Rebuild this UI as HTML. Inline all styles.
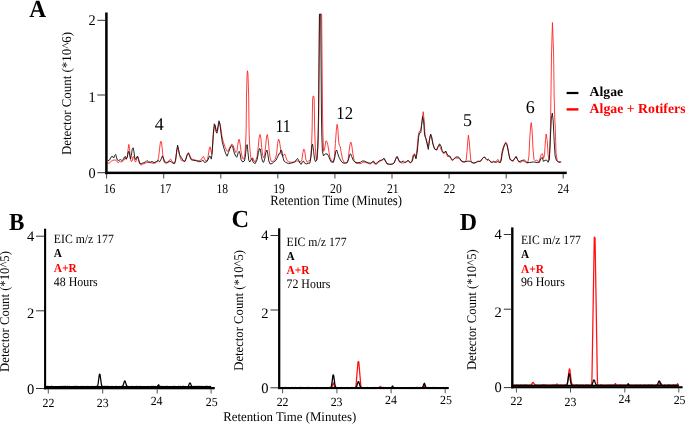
<!DOCTYPE html>
<html><head><meta charset="utf-8"><title>Figure</title>
<style>html,body{margin:0;padding:0;background:#fff}svg{display:block;text-rendering:geometricPrecision}</style></head>
<body>
<svg width="685" height="424" viewBox="0 0 685 424">
<rect width="685" height="424" fill="#fff"/>
<polyline points="107.60,163.4 109.60,162.8 111.10,161.4 112.70,160.3 114.20,160.0 115.70,160.0 117.10,161.8 118.30,162.8 119.50,161.4 120.80,161.8 122.40,161.8 123.90,160.3 125.20,158.0 126.20,159.5 127.30,157.0 128.10,149.3 128.80,144.4 129.50,148.3 130.30,158.0 131.10,161.4 132.10,161.0 132.90,157.0 133.60,156.4 134.60,160.5 135.60,162.1 136.70,159.0 137.70,156.4 138.50,158.5 139.50,163.1 140.80,165.1 142.80,164.1 145.30,163.1 147.90,162.4 151.00,162.8 154.00,163.4 156.10,162.6 157.60,161.0 158.60,157.5 159.60,148.3 160.50,141.6 161.40,141.6 162.20,148.3 163.20,158.5 164.20,162.4 165.80,163.4 167.80,162.6 169.40,160.0 170.60,159.0 171.90,161.0 173.20,163.1 174.90,162.3 175.90,157.8 176.80,150.0 177.70,146.8 178.70,150.7 179.80,156.5 181.30,160.4 183.40,161.0 185.00,161.0 186.30,157.2 187.60,153.3 188.60,152.6 189.90,155.9 191.50,159.1 194.00,159.7 196.60,160.4 199.20,160.7 201.20,159.7 202.50,157.2 203.50,156.5 204.70,159.1 206.00,161.0 207.30,160.4 208.30,155.2 209.40,148.1 210.10,146.8 210.90,150.7 211.80,153.9 212.70,144.8 213.80,130.6 214.80,124.7 215.80,128.0 216.70,131.2 217.70,130.6 218.70,124.7 219.60,122.8 220.60,126.7 221.90,135.8 223.20,141.6 225.20,147.4 227.10,151.3 228.40,150.7 230.00,146.8 231.70,144.2 233.00,145.1 234.50,149.4 235.80,152.6 236.90,151.3 237.80,144.8 238.70,139.6 239.40,139.6 240.40,146.1 241.40,153.9 242.70,158.5 244.00,159.1 244.90,153.5 245.45,147.0 246.00,134.5 246.20,126.0 246.50,95.0 247.10,74.0 247.50,70.8 247.95,74.0 248.65,95.0 249.00,126.0 249.20,134.5 249.75,147.0 250.40,154.5 251.10,159.1 252.00,158.5 252.90,157.8 253.90,161.0 255.40,161.7 257.10,156.5 258.20,147.4 259.10,137.7 260.00,134.5 260.90,138.3 261.70,147.4 262.60,155.2 263.60,157.8 264.70,155.2 265.60,146.1 266.50,137.0 267.30,134.5 268.20,139.6 269.10,150.0 270.10,157.8 271.40,161.7 273.30,161.0 275.30,159.1 276.60,153.9 277.60,143.5 278.50,139.0 279.40,140.9 280.50,148.1 281.50,153.9 282.70,156.5 283.70,155.2 284.60,153.9 285.70,156.5 287.00,160.4 288.90,162.0 291.50,162.3 294.70,162.0 296.70,161.0 298.60,161.0 300.60,162.0 301.90,159.7 302.90,152.6 303.80,149.0 304.70,150.7 305.80,159.1 307.10,162.3 308.60,161.0 310.10,160.4 311.00,155.0 311.60,145.0 312.10,130.0 312.60,100.0 313.00,96.2 313.80,96.2 314.20,100.0 314.70,130.0 315.20,145.0 315.80,155.0 316.50,160.4 317.40,157.8 318.20,140.9 318.75,115.0 319.50,14.2 321.65,14.2 322.55,115.0 322.95,135.0 323.60,151.5 324.60,149.0 325.90,140.9 326.80,141.3 327.80,144.8 329.10,152.6 330.00,157.8 331.90,161.0 333.40,162.0 334.50,156.5 335.40,143.5 336.30,130.6 337.10,124.3 337.90,129.3 338.60,140.9 339.40,145.5 340.30,146.8 341.20,152.6 342.50,159.1 344.20,162.7 346.80,163.0 348.10,159.7 349.10,151.3 350.00,144.2 351.00,142.2 351.90,146.1 352.90,153.9 354.20,160.4 355.90,163.2 358.50,163.6 361.10,163.6 363.00,162.0 365.00,162.3 367.60,163.2 370.20,164.0 372.10,162.7 373.40,162.0 374.70,164.0 376.20,164.3 378.60,162.3 380.50,161.0 382.50,160.1 384.00,158.8 385.30,161.0 387.00,164.0 390.30,164.5 392.90,164.0 394.40,162.3 395.70,159.1 397.00,157.5 398.00,159.1 399.60,162.3 401.90,163.0 404.50,162.7 406.50,162.0 408.00,160.4 410.40,163.2 411.90,160.4 413.20,154.7 414.30,153.8 415.70,157.5 417.00,149.0 418.30,135.8 419.40,131.1 420.80,130.2 422.10,120.8 423.20,111.7 424.20,120.8 425.10,136.8 426.40,138.7 427.70,146.2 428.70,145.3 429.80,136.8 430.80,134.3 432.10,140.6 434.00,148.1 436.20,150.0 437.70,147.2 439.20,144.9 441.30,149.9 442.70,152.8 444.20,153.6 445.50,151.7 446.60,154.2 447.60,156.6 449.30,156.3 450.60,158.1 452.20,160.5 453.60,159.5 455.10,158.1 457.00,158.1 458.90,158.1 460.40,160.0 462.10,161.9 464.20,162.1 465.40,161.6 466.20,160.0 467.00,151.5 467.80,140.9 468.40,135.2 469.20,140.9 470.00,151.5 470.80,160.0 471.80,162.6 474.10,163.4 476.30,162.3 478.00,161.6 480.30,161.3 481.90,159.1 483.30,157.7 484.50,157.3 485.80,159.1 487.20,160.5 488.60,159.8 489.80,161.1 491.40,162.6 493.00,161.9 494.60,162.1 496.20,161.6 497.30,159.8 498.10,159.5 499.00,161.6 499.90,162.3 501.00,158.9 502.00,152.0 503.10,147.5 504.20,145.1 505.50,142.2 506.60,142.8 507.70,147.3 508.70,153.1 510.00,159.5 510.90,160.4 513.20,161.3 515.10,157.5 516.40,156.6 517.90,160.4 520.20,162.6 523.00,160.8 525.80,162.3 527.70,163.2 528.90,156.6 529.80,137.7 530.80,124.5 531.30,122.6 532.10,130.2 533.00,149.0 534.00,159.4 535.30,160.8 536.80,160.0 538.70,162.3 540.00,158.5 541.30,154.3 542.50,153.8 543.60,158.5 544.50,154.7 545.50,139.6 546.20,134.0 547.20,140.6 548.10,154.7 549.10,160.4 550.00,147.2 550.60,118.9 550.95,96.0 551.50,54.0 552.45,22.5 553.60,54.0 554.15,96.0 554.75,118.0 555.30,128.3 556.00,152.8 557.20,160.4 558.90,162.6 561.30,161.9" fill="none" stroke="#ff1a1a" stroke-width="0.85" stroke-linejoin="round"/>
<polyline points="107.60,161.0 109.60,160.0 111.10,157.0 112.20,156.2 113.70,158.0 114.70,155.4 115.70,154.4 116.40,157.0 117.30,160.0 118.80,160.5 120.30,159.5 121.90,160.5 123.40,159.5 124.40,157.0 125.40,156.4 126.20,159.0 127.30,157.0 128.30,151.9 129.00,151.3 129.80,155.4 130.50,159.0 131.40,155.4 132.20,149.3 133.10,147.8 133.90,151.3 134.80,158.0 135.60,159.5 136.70,157.0 137.50,156.2 138.50,159.5 139.50,163.1 141.30,163.6 143.30,162.8 145.30,162.1 146.90,160.5 148.40,161.8 150.50,162.1 152.00,161.6 154.00,162.6 156.10,161.8 158.10,160.5 159.60,161.8 161.20,159.0 162.40,155.9 163.40,158.0 164.80,161.8 166.30,162.4 168.30,162.1 169.90,161.0 171.40,162.1 172.90,163.1 174.60,163.6 175.60,160.4 176.50,152.6 177.60,145.1 178.50,149.4 179.50,154.6 181.10,157.2 183.00,160.4 184.70,161.7 186.00,159.1 187.30,154.6 188.50,153.3 189.50,155.9 191.10,159.7 193.40,160.4 196.00,160.7 198.60,161.7 201.20,161.4 202.90,160.1 204.40,162.3 206.40,162.0 208.10,159.7 209.40,156.2 210.40,156.5 211.30,159.1 212.20,152.6 213.20,134.5 214.30,123.8 215.20,126.0 216.10,131.9 217.00,133.2 217.90,126.7 219.00,120.8 220.00,124.7 221.00,133.2 222.30,142.2 223.90,148.1 225.80,153.9 227.10,156.2 228.40,152.6 230.10,148.1 231.70,145.5 232.70,146.8 234.00,152.0 235.60,156.2 236.90,157.2 238.20,152.6 239.20,151.3 240.10,153.9 241.10,159.7 242.70,162.0 244.40,161.0 245.40,156.5 246.30,146.1 247.20,144.6 248.00,152.6 248.80,160.4 249.80,162.0 251.10,159.7 252.00,158.5 253.20,162.3 255.20,163.6 257.10,159.7 258.40,152.6 259.50,148.5 260.40,149.0 261.40,156.5 262.60,161.7 263.60,162.3 264.70,159.1 265.80,152.6 266.90,150.0 267.80,153.9 268.80,161.0 270.10,164.0 272.00,163.6 274.00,161.7 275.90,160.4 277.50,157.2 278.80,153.9 279.80,153.9 280.90,150.0 281.80,150.7 282.70,156.5 284.00,161.0 285.70,162.3 288.30,163.6 291.50,163.0 294.70,162.0 296.40,159.7 297.60,158.5 298.60,160.4 299.90,163.2 301.20,164.3 302.50,161.7 303.40,161.0 304.70,163.2 306.40,164.0 308.40,163.2 309.90,163.2 311.00,156.5 311.90,146.1 312.60,144.2 313.60,151.3 314.50,159.1 315.50,161.7 316.80,159.7 317.70,147.4 318.10,135.0 318.50,115.0 319.45,14.2 320.70,14.2 321.45,115.0 321.80,135.0 322.40,151.3 323.50,155.9 325.20,153.9 327.20,153.9 328.50,155.9 330.00,159.7 331.20,162.0 333.40,162.3 334.70,157.8 335.80,151.3 336.70,150.0 337.70,153.3 339.00,157.2 341.00,161.0 342.90,163.0 345.50,163.2 347.50,162.3 348.80,158.5 349.80,154.6 350.70,153.9 351.70,156.5 353.30,160.4 355.20,162.3 357.80,162.7 360.40,162.3 362.40,161.0 364.30,161.0 366.30,162.0 368.90,163.0 370.80,163.2 372.40,161.7 373.40,161.0 374.70,163.0 376.00,163.6 377.90,162.0 379.90,160.4 381.80,160.1 383.40,158.5 384.40,158.5 385.50,161.0 387.00,163.6 389.60,164.3 392.20,164.0 394.10,163.0 395.40,159.7 396.50,156.8 397.40,156.5 398.40,159.1 399.70,161.7 401.30,162.0 403.20,161.0 404.80,162.3 406.50,161.7 408.00,160.4 410.40,162.6 412.30,161.3 413.60,155.7 414.70,154.7 416.00,158.9 417.40,150.9 418.50,137.7 419.40,133.0 420.80,132.5 421.70,124.5 422.60,116.6 423.60,120.8 424.50,134.0 425.80,138.7 427.00,143.4 428.30,149.4 429.40,140.6 430.60,134.3 431.70,136.8 433.00,144.3 434.90,149.4 436.80,150.0 438.30,146.2 439.60,143.8 441.10,146.2 442.10,150.5 443.70,152.8 445.00,152.0 445.80,151.0 446.90,153.6 448.30,155.8 449.80,156.0 451.10,158.4 452.50,160.2 453.80,158.9 455.40,157.3 457.00,156.8 458.90,157.3 460.10,158.9 461.70,161.1 463.90,161.9 466.00,161.6 468.10,161.1 470.20,161.3 471.80,162.3 473.90,163.0 476.10,162.3 477.60,161.3 479.20,161.3 480.80,161.1 482.20,158.9 483.50,157.3 484.70,157.0 485.80,158.4 487.20,159.8 488.30,159.1 489.30,160.0 490.70,161.9 492.20,162.3 493.60,161.3 494.90,162.1 496.20,162.3 497.80,161.6 499.20,162.3 500.40,162.6 501.30,160.0 502.20,153.6 503.30,148.9 504.50,145.1 505.70,143.2 506.80,144.6 507.90,148.9 508.90,154.7 510.00,158.9 510.90,160.0 512.80,160.8 514.70,158.5 516.00,156.6 517.40,159.4 518.90,161.9 522.10,160.4 524.30,160.0 526.80,162.3 529.60,162.6 533.40,161.9 537.20,162.6 539.40,162.3 540.90,158.5 542.30,157.5 543.40,161.3 545.10,160.4 546.60,160.0 548.10,162.3 549.40,158.5 550.40,137.7 551.30,118.9 552.30,113.2 553.20,120.8 554.20,141.5 555.10,155.7 556.40,160.4 558.30,161.9 560.80,161.9" fill="none" stroke="#111" stroke-width="0.9" stroke-linejoin="round"/>
<rect x="105.15" y="12.5" width="2.5" height="161.7" fill="#000"/>
<rect x="105.15" y="171.65" width="461.6" height="2.45" fill="#000"/>
<rect x="97.3" y="19.8" width="8.2" height="1" fill="#333"/>
<rect x="97.3" y="94.5" width="8.2" height="1" fill="#333"/>
<rect x="97.3" y="172.2" width="8.2" height="1" fill="#333"/>
<rect x="106.1" y="174" width="1" height="4.5" fill="#444"/>
<text transform="translate(109.6,193.1) scale(1.0,1.16)" font-size="11.6" text-anchor="middle" font-family="Liberation Serif, serif">16</text>
<rect x="163.2" y="174" width="1" height="4.5" fill="#444"/>
<text transform="translate(165.5,193.1) scale(1.0,1.16)" font-size="11.6" text-anchor="middle" font-family="Liberation Serif, serif">17</text>
<rect x="220.3" y="174" width="1" height="4.5" fill="#444"/>
<text transform="translate(222.3,193.1) scale(1.0,1.16)" font-size="11.6" text-anchor="middle" font-family="Liberation Serif, serif">18</text>
<rect x="277.3" y="174" width="1" height="4.5" fill="#444"/>
<text transform="translate(279.1,193.1) scale(1.0,1.16)" font-size="11.6" text-anchor="middle" font-family="Liberation Serif, serif">19</text>
<rect x="334.4" y="174" width="1" height="4.5" fill="#444"/>
<text transform="translate(335.9,193.1) scale(1.0,1.16)" font-size="11.6" text-anchor="middle" font-family="Liberation Serif, serif">20</text>
<rect x="391.5" y="174" width="1" height="4.5" fill="#444"/>
<text transform="translate(392.8,193.1) scale(1.0,1.16)" font-size="11.6" text-anchor="middle" font-family="Liberation Serif, serif">21</text>
<rect x="448.6" y="174" width="1" height="4.5" fill="#444"/>
<text transform="translate(449.6,193.1) scale(1.0,1.16)" font-size="11.6" text-anchor="middle" font-family="Liberation Serif, serif">22</text>
<rect x="505.7" y="174" width="1" height="4.5" fill="#444"/>
<text transform="translate(506.4,193.1) scale(1.0,1.16)" font-size="11.6" text-anchor="middle" font-family="Liberation Serif, serif">23</text>
<rect x="562.7" y="174" width="1" height="4.5" fill="#444"/>
<text transform="translate(563.2,193.1) scale(1.0,1.16)" font-size="11.6" text-anchor="middle" font-family="Liberation Serif, serif">24</text>
<text transform="translate(95.7,25.0) scale(1.0,1.04)" font-size="14.3" text-anchor="end" font-family="Liberation Serif, serif">2</text>
<text transform="translate(95.7,102.1) scale(1.0,1.04)" font-size="14.3" text-anchor="end" font-family="Liberation Serif, serif">1</text>
<text transform="translate(95.7,177.8) scale(1.0,1.04)" font-size="14.3" text-anchor="end" font-family="Liberation Serif, serif">0</text>
<text transform="translate(70.7,155.1) rotate(-90) scale(1.0,1.04)" font-size="12.95" font-family="Liberation Serif, serif">Detector Count (*10^6)</text>
<text transform="translate(270.2,204.8) scale(1.0,1.11)" font-size="12.7" font-family="Liberation Serif, serif">Retention Time (Minutes)</text>
<text transform="translate(29.3,16.6) scale(0.95,1)" font-size="24.6" font-weight="bold" font-family="Liberation Serif, serif">A</text>
<text transform="translate(154.8,129.8)" font-size="18" font-family="Liberation Serif, serif">4</text>
<text transform="translate(275.5,131.8) scale(0.88,1.0)" font-size="18" font-family="Liberation Serif, serif">11</text>
<text transform="translate(336.3,118.7) scale(0.93,1.0)" font-size="18" font-family="Liberation Serif, serif">12</text>
<text transform="translate(463,126)" font-size="18" font-family="Liberation Serif, serif">5</text>
<text transform="translate(525.8,113.1)" font-size="18" font-family="Liberation Serif, serif">6</text>
<rect x="566.6" y="91.9" width="11.8" height="2.2" fill="#000"/>
<rect x="566.6" y="108.2" width="11.8" height="2.4" fill="#f00"/>
<text transform="translate(589.6,95.7)" font-size="13.7" font-weight="bold" font-family="Liberation Serif, serif">Algae</text>
<text transform="translate(589.6,112.9) scale(1.0,1.01)" font-size="13.8" font-weight="bold" fill="#f00" font-family="Liberation Serif, serif">Algae + Rotifers</text>
<polyline points="46.10,386.5 46.35,386.7 46.60,386.6 46.85,386.8 47.10,386.8 47.35,386.4 47.60,386.4 47.85,386.9 48.10,386.6 48.35,386.5 48.60,387.0 48.85,386.7 49.10,386.9 49.35,386.7 49.60,386.8 49.85,386.5 50.10,386.8 50.35,386.9 50.60,386.7 50.85,386.8 51.10,386.8 51.35,386.4 51.60,386.9 51.85,386.8 52.10,386.6 52.35,386.4 52.60,386.9 52.85,386.7 53.10,386.8 53.35,386.9 53.60,386.8 53.85,387.0 54.10,386.6 54.35,386.9 54.60,386.7 54.85,387.0 55.10,386.9 55.35,386.5 55.60,386.5 55.85,386.5 56.10,387.0 56.35,386.7 56.60,386.8 56.85,386.6 57.10,386.7 57.35,386.6 57.60,386.6 57.85,386.8 58.10,386.8 58.35,386.9 58.60,386.8 58.85,387.0 59.10,386.9 59.35,387.0 59.60,386.8 59.85,386.5 60.10,386.9 60.35,387.0 60.60,386.9 60.85,386.7 61.10,386.8 61.35,386.5 61.60,386.9 61.85,386.7 62.10,386.6 62.35,386.4 62.60,386.9 62.85,387.0 63.10,386.5 63.35,386.9 63.60,386.6 63.85,386.5 64.10,386.6 64.35,386.9 64.60,386.9 64.85,386.4 65.10,386.8 65.35,386.4 65.60,386.8 65.85,386.6 66.10,386.9 66.35,387.0 66.60,386.7 66.85,387.0 67.10,386.6 67.35,386.4 67.60,386.8 67.85,386.4 68.10,386.5 68.35,386.6 68.60,386.8 68.85,386.5 69.10,386.4 69.35,386.9 69.60,386.6 69.85,387.0 70.10,386.9 70.35,386.6 70.60,386.7 70.85,386.7 71.10,386.8 71.35,386.8 71.60,386.7 71.85,386.8 72.10,387.0 72.35,386.7 72.60,386.7 72.85,386.8 73.10,386.5 73.35,386.6 73.60,387.0 73.85,386.7 74.10,386.7 74.35,386.4 74.60,386.6 74.85,386.7 75.10,386.4 75.35,386.8 75.60,386.8 75.85,386.4 76.10,386.8 76.35,386.7 76.60,386.8 76.85,386.6 77.10,386.8 77.35,386.8 77.60,386.4 77.85,386.4 78.10,386.8 78.35,387.0 78.60,386.6 78.85,386.7 79.10,386.8 79.35,386.6 79.60,386.6 79.85,386.6 80.10,386.6 80.35,386.8 80.60,386.6 80.85,386.6 81.10,386.9 81.35,386.4 81.60,386.7 81.85,386.8 82.10,386.6 82.35,386.5 82.60,386.9 82.85,386.5 83.10,386.5 83.35,386.7 83.60,386.8 83.85,386.5 84.10,386.6 84.35,386.6 84.60,386.9 84.85,386.7 85.10,386.9 85.35,386.5 85.60,386.6 85.85,386.8 86.10,386.9 86.35,386.7 86.60,386.5 86.85,386.5 87.10,386.7 87.35,386.5 87.60,386.9 87.85,386.9 88.10,386.5 88.35,386.6 88.60,386.9 88.85,386.8 89.10,386.9 89.35,386.6 89.60,386.5 89.85,386.6 90.10,386.9 90.35,386.6 90.60,386.6 90.85,386.7 91.10,386.7 91.35,386.6 91.60,387.0 91.85,386.5 92.10,386.4 92.35,387.0 92.60,386.9 92.85,387.0 93.10,386.7 93.35,387.0 93.60,387.0 93.85,386.5 94.10,386.8 94.35,386.9 94.60,386.8 94.85,386.7 95.10,386.6 95.35,386.6 95.60,386.5 95.85,386.4 96.10,386.7 96.35,386.5 96.60,386.8 96.85,386.3 97.10,386.6 97.35,386.2 97.60,385.8 97.85,385.0 98.10,383.8 98.35,382.1 98.60,379.9 98.85,378.3 99.10,376.0 99.35,374.6 99.60,374.1 99.85,374.1 100.10,374.9 100.35,376.8 100.60,378.6 100.85,380.5 101.10,382.2 101.35,384.1 101.60,385.0 101.85,385.9 102.10,386.1 102.35,386.3 102.60,386.6 102.85,386.8 103.10,386.5 103.35,386.9 103.60,387.0 103.85,386.9 104.10,386.9 104.35,386.4 104.60,386.8 104.85,386.9 105.10,386.4 105.35,386.6 105.60,386.6 105.85,386.7 106.10,386.7 106.35,386.7 106.60,386.9 106.85,386.4 107.10,386.4 107.35,386.5 107.60,386.5 107.85,386.4 108.10,387.0 108.35,386.9 108.60,386.5 108.85,386.7 109.10,386.6 109.35,386.6 109.60,386.6 109.85,386.8 110.10,386.8 110.35,386.6 110.60,386.5 110.85,386.6 111.10,386.5 111.35,386.7 111.60,386.8 111.85,386.6 112.10,386.4 112.35,386.5 112.60,386.6 112.85,386.8 113.10,386.9 113.35,386.6 113.60,386.9 113.85,386.8 114.10,386.7 114.35,386.6 114.60,386.7 114.85,386.8 115.10,386.7 115.35,386.8 115.60,386.7 115.85,386.5 116.10,386.7 116.35,386.8 116.60,386.4 116.85,386.7 117.10,386.7 117.35,386.9 117.60,387.0 117.85,386.6 118.10,386.9 118.35,386.9 118.60,386.6 118.85,386.7 119.10,386.5 119.35,386.9 119.60,386.8 119.85,386.9 120.10,386.9 120.35,386.8 120.60,386.8 120.85,386.7 121.10,386.5 121.35,386.7 121.60,386.4 121.85,386.4 122.10,386.8 122.35,386.2 122.60,386.0 122.85,385.7 123.10,385.7 123.35,384.6 123.60,383.7 123.85,383.3 124.10,381.9 124.35,381.5 124.60,380.9 124.85,380.9 125.10,381.3 125.35,381.7 125.60,382.7 125.85,383.2 126.10,384.5 126.35,385.1 126.60,385.8 126.85,385.9 127.10,386.5 127.35,386.8 127.60,386.4 127.85,386.6 128.10,386.7 128.35,386.9 128.60,386.5 128.85,386.5 129.10,386.5 129.35,386.8 129.60,386.9 129.85,386.6 130.10,386.6 130.35,386.6 130.60,386.6 130.85,386.7 131.10,386.4 131.35,386.7 131.60,387.0 131.85,386.6 132.10,386.8 132.35,386.5 132.60,386.8 132.85,386.9 133.10,386.8 133.35,386.7 133.60,386.7 133.85,386.8 134.10,386.9 134.35,386.5 134.60,386.5 134.85,386.8 135.10,386.9 135.35,386.7 135.60,386.7 135.85,386.8 136.10,386.5 136.35,386.6 136.60,386.5 136.85,386.8 137.10,386.6 137.35,386.5 137.60,386.8 137.85,387.0 138.10,386.6 138.35,386.8 138.60,386.6 138.85,386.9 139.10,386.8 139.35,386.6 139.60,386.5 139.85,386.4 140.10,386.7 140.35,386.6 140.60,386.5 140.85,386.6 141.10,386.6 141.35,386.9 141.60,386.5 141.85,387.0 142.10,386.7 142.35,386.8 142.60,386.7 142.85,386.9 143.10,386.9 143.35,386.7 143.60,386.7 143.85,386.8 144.10,386.9 144.35,386.6 144.60,386.8 144.85,387.0 145.10,386.7 145.35,386.5 145.60,386.5 145.85,386.8 146.10,386.8 146.35,387.0 146.60,386.9 146.85,386.5 147.10,386.5 147.35,386.6 147.60,386.5 147.85,386.8 148.10,386.9 148.35,386.9 148.60,386.6 148.85,386.9 149.10,386.6 149.35,386.7 149.60,386.8 149.85,386.5 150.10,386.5 150.35,386.9 150.60,386.6 150.85,386.6 151.10,386.7 151.35,386.8 151.60,386.4 151.85,386.6 152.10,386.7 152.35,386.7 152.60,386.5 152.85,386.8 153.10,387.0 153.35,386.6 153.60,386.7 153.85,386.5 154.10,386.6 154.35,386.8 154.60,386.5 154.85,386.9 155.10,386.9 155.35,386.5 155.60,387.0 155.85,386.6 156.10,386.9 156.35,386.9 156.60,386.6 156.85,386.8 157.10,386.7 157.35,386.6 157.60,385.9 157.85,385.8 158.10,385.5 158.35,385.0 158.60,384.8 158.85,384.9 159.10,385.5 159.35,385.9 159.60,386.5 159.85,386.7 160.10,386.7 160.35,386.5 160.60,386.8 160.85,386.8 161.10,386.5 161.35,386.9 161.60,386.8 161.85,386.5 162.10,387.0 162.35,386.5 162.60,386.6 162.85,386.8 163.10,386.8 163.35,386.7 163.60,386.8 163.85,386.7 164.10,386.6 164.35,386.5 164.60,386.4 164.85,386.8 165.10,386.9 165.35,386.7 165.60,386.8 165.85,386.6 166.10,386.6 166.35,386.6 166.60,386.9 166.85,386.4 167.10,386.7 167.35,386.5 167.60,386.9 167.85,386.6 168.10,386.6 168.35,386.6 168.60,386.7 168.85,386.9 169.10,386.6 169.35,386.9 169.60,386.5 169.85,386.6 170.10,386.5 170.35,386.5 170.60,386.9 170.85,386.8 171.10,386.5 171.35,386.5 171.60,386.6 171.85,386.8 172.10,386.9 172.35,386.8 172.60,386.8 172.85,386.5 173.10,386.6 173.35,386.5 173.60,386.7 173.85,386.7 174.10,386.5 174.35,386.6 174.60,386.9 174.85,386.4 175.10,386.9 175.35,386.9 175.60,387.0 175.85,386.6 176.10,386.7 176.35,386.7 176.60,386.8 176.85,387.0 177.10,386.8 177.35,386.6 177.60,386.9 177.85,386.7 178.10,386.8 178.35,386.8 178.60,386.4 178.85,386.9 179.10,386.8 179.35,386.7 179.60,386.7 179.85,386.7 180.10,386.5 180.35,386.7 180.60,386.4 180.85,386.7 181.10,386.8 181.35,386.7 181.60,386.7 181.85,387.0 182.10,386.9 182.35,386.5 182.60,386.9 182.85,386.8 183.10,386.4 183.35,386.6 183.60,386.5 183.85,386.4 184.10,386.7 184.35,387.0 184.60,386.6 184.85,386.9 185.10,386.8 185.35,386.5 185.60,386.9 185.85,386.8 186.10,387.0 186.35,386.8 186.60,386.8 186.85,386.6 187.10,386.9 187.35,386.9 187.60,386.8 187.85,386.5 188.10,386.5 188.35,386.1 188.60,385.5 188.85,384.9 189.10,384.3 189.35,383.7 189.60,383.1 189.85,383.0 190.10,383.0 190.35,383.2 190.60,383.7 190.85,384.5 191.10,384.9 191.35,385.6 191.60,386.2 191.85,386.3 192.10,386.3 192.35,386.9 192.60,386.8 192.85,386.6 193.10,386.6 193.35,386.7 193.60,386.8 193.85,386.5 194.10,386.4 194.35,386.5 194.60,386.9 194.85,386.5 195.10,386.7 195.35,386.5 195.60,386.5 195.85,386.5 196.10,386.6 196.35,386.5 196.60,386.4 196.85,386.5 197.10,386.5 197.35,386.7 197.60,386.4 197.85,386.4 198.10,386.7 198.35,386.6 198.60,386.8 198.85,386.4 199.10,386.6 199.35,386.6 199.60,386.4 199.85,387.0 200.10,386.5 200.35,386.5 200.60,386.7 200.85,386.5 201.10,386.8 201.35,386.6 201.60,386.5 201.85,386.4 202.10,386.8 202.35,386.6 202.60,386.9 202.85,386.7 203.10,387.0 203.35,386.6 203.60,386.5 203.85,386.6 204.10,386.9 204.35,386.8 204.60,386.6 204.85,386.5 205.10,386.8 205.35,387.0 205.60,386.8 205.85,386.4 206.10,386.4 206.35,386.5 206.60,386.5 206.85,386.4 207.10,386.4 207.35,386.8 207.60,386.9 207.85,386.5 208.10,387.0 208.35,386.7 208.60,386.9 208.85,387.0 209.10,387.0 209.35,386.4 209.60,386.6 209.85,386.8 210.10,387.0 210.35,386.5 210.60,386.6 210.85,386.9" fill="none" stroke="#000" stroke-width="1.25" stroke-linejoin="round"/>
<rect x="45.10" y="386.00" width="165.8" height="1.20" fill="#000"/>
<rect x="44.05" y="228.7" width="2.1" height="160.60" fill="#000"/>
<rect x="44.05" y="387.00" width="170.7" height="2.30" fill="#000"/>
<rect x="36.0" y="235.70" width="8.4" height="1" fill="#333"/>
<text transform="translate(34.3,240.9)" font-size="14.5" text-anchor="end" font-family="Liberation Serif, serif">4</text>
<rect x="36.0" y="310.30" width="8.4" height="1" fill="#333"/>
<text transform="translate(34.3,318.1)" font-size="14.5" text-anchor="end" font-family="Liberation Serif, serif">2</text>
<rect x="36.0" y="388.00" width="8.4" height="1" fill="#333"/>
<text transform="translate(34.3,394.0)" font-size="14.5" text-anchor="end" font-family="Liberation Serif, serif">0</text>
<rect x="47.80" y="389.10" width="1" height="4.4" fill="#555"/>
<text transform="translate(48.4,407.0) scale(1.0,1.04)" font-size="11.9" text-anchor="middle" font-family="Liberation Serif, serif">22</text>
<rect x="102.20" y="389.10" width="1" height="4.4" fill="#555"/>
<text transform="translate(102.8,407.0) scale(1.0,1.04)" font-size="11.9" text-anchor="middle" font-family="Liberation Serif, serif">23</text>
<rect x="156.70" y="389.10" width="1" height="4.4" fill="#555"/>
<text transform="translate(156.6,405.0) scale(1.0,1.04)" font-size="11.9" text-anchor="middle" font-family="Liberation Serif, serif">24</text>
<rect x="210.60" y="389.10" width="1" height="4.4" fill="#555"/>
<text transform="translate(211.8,406.2) scale(1.0,1.04)" font-size="11.9" text-anchor="middle" font-family="Liberation Serif, serif">25</text>
<text transform="translate(8.9,229.6) scale(0.94,1)" font-size="24.6" font-weight="bold" font-family="Liberation Serif, serif">B</text>
<text transform="translate(9.2,371.9) rotate(-90) scale(1.0,1.05)" font-size="12.7" font-family="Liberation Serif, serif">Detector Count (*10^5)</text>
<text transform="translate(53.8,243) scale(1.0,1.08)" font-size="11.75" font-family="Liberation Serif, serif">EIC m/z 177</text>
<text transform="translate(53.8,257.2) scale(1.0,1.06)" font-size="11.3" font-weight="bold" font-family="Liberation Serif, serif">A</text>
<text transform="translate(53.8,271.5) scale(1.0,1.06)" font-size="11.45" font-weight="bold" fill="#f00" font-family="Liberation Serif, serif">A+R</text>
<text transform="translate(53.8,285.7) scale(1.0,1.08)" font-size="11.9" font-family="Liberation Serif, serif">48 Hours</text>
<polyline points="280.20,387.8 280.45,387.9 280.70,387.9 280.95,388.1 281.20,388.2 281.45,387.8 281.70,388.1 281.95,388.1 282.20,388.2 282.45,388.0 282.70,388.2 282.95,387.9 283.20,388.0 283.45,387.9 283.70,388.1 283.95,388.0 284.20,387.9 284.45,387.8 284.70,388.1 284.95,388.1 285.20,388.1 285.45,387.9 285.70,388.0 285.95,387.8 286.20,388.1 286.45,387.8 286.70,388.0 286.95,388.1 287.20,388.1 287.45,387.8 287.70,387.9 287.95,388.2 288.20,388.1 288.45,388.2 288.70,388.2 288.95,388.0 289.20,388.2 289.45,388.1 289.70,387.9 289.95,387.9 290.20,387.8 290.45,387.9 290.70,388.2 290.95,387.8 291.20,388.0 291.45,387.8 291.70,387.8 291.95,388.1 292.20,387.9 292.45,387.8 292.70,387.8 292.95,388.1 293.20,388.0 293.45,387.8 293.70,387.9 293.95,388.2 294.20,387.9 294.45,388.0 294.70,388.0 294.95,388.1 295.20,388.1 295.45,388.1 295.70,388.0 295.95,387.8 296.20,387.8 296.45,387.8 296.70,388.2 296.95,387.8 297.20,387.8 297.45,388.2 297.70,387.8 297.95,388.2 298.20,387.8 298.45,388.0 298.70,387.9 298.95,388.2 299.20,388.1 299.45,388.1 299.70,388.1 299.95,388.2 300.20,387.9 300.45,388.1 300.70,388.0 300.95,387.8 301.20,388.2 301.45,388.0 301.70,388.2 301.95,387.9 302.20,388.0 302.45,388.0 302.70,388.1 302.95,387.8 303.20,387.9 303.45,388.0 303.70,387.8 303.95,388.0 304.20,388.1 304.45,388.0 304.70,388.1 304.95,388.1 305.20,387.9 305.45,387.9 305.70,388.2 305.95,387.9 306.20,388.0 306.45,387.8 306.70,387.9 306.95,387.8 307.20,388.2 307.45,388.1 307.70,388.2 307.95,388.2 308.20,388.1 308.45,388.2 308.70,388.0 308.95,388.0 309.20,388.2 309.45,388.2 309.70,388.2 309.95,388.0 310.20,388.1 310.45,388.0 310.70,388.2 310.95,388.2 311.20,387.9 311.45,388.2 311.70,387.8 311.95,387.8 312.20,388.1 312.45,387.9 312.70,388.0 312.95,388.1 313.20,387.8 313.45,388.1 313.70,387.9 313.95,388.0 314.20,387.9 314.45,388.1 314.70,388.1 314.95,387.9 315.20,387.8 315.45,387.9 315.70,388.0 315.95,387.8 316.20,387.8 316.45,388.1 316.70,388.1 316.95,388.2 317.20,388.2 317.45,388.2 317.70,387.9 317.95,387.8 318.20,387.9 318.45,388.0 318.70,388.0 318.95,388.0 319.20,387.9 319.45,388.2 319.70,387.9 319.95,388.0 320.20,388.2 320.45,388.2 320.70,387.9 320.95,387.9 321.20,388.2 321.45,387.8 321.70,387.8 321.95,388.0 322.20,388.0 322.45,387.8 322.70,387.8 322.95,387.9 323.20,388.1 323.45,388.0 323.70,388.2 323.95,388.1 324.20,388.2 324.45,387.8 324.70,387.8 324.95,387.8 325.20,388.0 325.45,387.9 325.70,387.8 325.95,388.0 326.20,387.8 326.45,387.9 326.70,387.9 326.95,388.2 327.20,388.0 327.45,387.9 327.70,387.8 327.95,388.0 328.20,388.1 328.45,388.1 328.70,388.2 328.95,388.2 329.20,387.9 329.45,387.8 329.70,388.1 329.95,388.1 330.20,388.0 330.45,388.2 330.70,388.0 330.95,387.9 331.20,387.8 331.45,387.6 331.70,387.7 331.95,387.4 332.20,386.6 332.45,385.4 332.70,384.3 332.95,383.4 333.20,382.8 333.45,382.8 333.70,383.4 333.95,384.5 334.20,385.5 334.45,386.4 334.70,387.4 334.95,387.9 335.20,387.9 335.45,387.9 335.70,387.9 335.95,388.0 336.20,388.2 336.45,388.0 336.70,388.2 336.95,387.8 337.20,387.9 337.45,388.0 337.70,388.0 337.95,388.2 338.20,388.2 338.45,388.2 338.70,388.1 338.95,387.8 339.20,388.0 339.45,388.0 339.70,388.0 339.95,387.9 340.20,388.1 340.45,388.2 340.70,387.8 340.95,388.1 341.20,387.9 341.45,388.0 341.70,388.2 341.95,388.2 342.20,388.1 342.45,387.8 342.70,388.2 342.95,387.8 343.20,387.9 343.45,388.2 343.70,387.9 343.95,387.9 344.20,388.2 344.45,388.2 344.70,387.9 344.95,387.9 345.20,387.9 345.45,387.8 345.70,387.9 345.95,388.2 346.20,387.8 346.45,387.9 346.70,387.8 346.95,387.8 347.20,388.0 347.45,388.1 347.70,388.2 347.95,388.1 348.20,388.2 348.45,387.8 348.70,387.9 348.95,388.2 349.20,387.8 349.45,387.9 349.70,388.0 349.95,387.9 350.20,388.0 350.45,387.8 350.70,387.9 350.95,388.2 351.20,387.8 351.45,388.2 351.70,387.8 351.95,388.2 352.20,388.1 352.45,388.1 352.70,387.8 352.95,387.8 353.20,388.1 353.45,387.8 353.70,387.8 353.95,388.2 354.20,388.2 354.45,387.8 354.70,388.2 354.95,388.0 355.20,387.9 355.45,387.8 355.70,387.9 355.95,386.5 356.20,383.1 356.45,380.1 356.70,377.1 356.95,374.2 357.20,371.3 357.45,368.6 357.70,365.2 357.95,362.3 358.20,361.6 358.45,361.6 358.70,361.6 358.95,363.5 359.20,366.6 359.45,369.8 359.70,372.6 359.95,375.6 360.20,378.4 360.45,381.2 360.70,384.4 360.95,387.5 361.20,388.1 361.45,388.0 361.70,388.0 361.95,388.0 362.20,388.0 362.45,388.0 362.70,388.2 362.95,387.9 363.20,388.0 363.45,388.2 363.70,388.2 363.95,387.8 364.20,388.2 364.45,388.2 364.70,387.8 364.95,387.9 365.20,387.9 365.45,387.8 365.70,388.2 365.95,388.0 366.20,388.2 366.45,387.8 366.70,387.8 366.95,388.2 367.20,388.1 367.45,388.2 367.70,388.1 367.95,388.0 368.20,388.1 368.45,387.8 368.70,388.0 368.95,388.0 369.20,387.8 369.45,388.1 369.70,387.9 369.95,388.0 370.20,387.9 370.45,387.9 370.70,387.9 370.95,388.1 371.20,388.2 371.45,388.2 371.70,388.2 371.95,388.2 372.20,387.9 372.45,388.2 372.70,387.9 372.95,387.8 373.20,388.0 373.45,388.1 373.70,387.9 373.95,388.1 374.20,387.9 374.45,388.2 374.70,388.0 374.95,388.0 375.20,388.0 375.45,388.2 375.70,388.2 375.95,388.0 376.20,388.0 376.45,388.1 376.70,387.8 376.95,388.0 377.20,388.2 377.45,388.1 377.70,387.8 377.95,388.2 378.20,387.9 378.45,388.2 378.70,387.9 378.95,387.8 379.20,387.9 379.45,387.8 379.70,387.2 379.95,386.9 380.20,386.5 380.45,386.4 380.70,386.7 380.95,387.3 381.20,387.6 381.45,387.8 381.70,388.0 381.95,388.2 382.20,388.0 382.45,387.8 382.70,387.9 382.95,387.9 383.20,388.1 383.45,387.8 383.70,387.8 383.95,387.9 384.20,387.9 384.45,387.8 384.70,388.0 384.95,388.2 385.20,388.0 385.45,388.1 385.70,388.2 385.95,388.2 386.20,388.2 386.45,388.0 386.70,388.1 386.95,387.8 387.20,388.2 387.45,387.9 387.70,388.0 387.95,388.2 388.20,387.9 388.45,387.8 388.70,388.2 388.95,388.0 389.20,387.8 389.45,387.8 389.70,387.9 389.95,387.8 390.20,388.2 390.45,387.8 390.70,387.9 390.95,387.9 391.20,388.0 391.45,388.0 391.70,388.1 391.95,388.1 392.20,388.0 392.45,387.8 392.70,388.2 392.95,388.1 393.20,387.8 393.45,388.0 393.70,388.1 393.95,388.2 394.20,387.8 394.45,387.8 394.70,388.0 394.95,388.0 395.20,388.2 395.45,388.2 395.70,387.9 395.95,388.0 396.20,388.0 396.45,388.2 396.70,387.9 396.95,387.9 397.20,387.8 397.45,388.1 397.70,387.8 397.95,388.2 398.20,388.0 398.45,388.0 398.70,387.8 398.95,387.9 399.20,388.0 399.45,388.2 399.70,388.0 399.95,387.9 400.20,388.2 400.45,388.1 400.70,388.0 400.95,387.9 401.20,387.9 401.45,388.2 401.70,387.8 401.95,388.0 402.20,388.1 402.45,387.9 402.70,388.1 402.95,388.2 403.20,388.2 403.45,388.1 403.70,387.9 403.95,387.8 404.20,388.0 404.45,387.9 404.70,387.8 404.95,388.2 405.20,387.9 405.45,388.2 405.70,388.2 405.95,387.8 406.20,388.2 406.45,387.9 406.70,387.9 406.95,387.8 407.20,387.8 407.45,388.0 407.70,387.9 407.95,388.2 408.20,388.2 408.45,387.8 408.70,388.0 408.95,387.9 409.20,387.8 409.45,387.9 409.70,387.9 409.95,388.1 410.20,387.9 410.45,387.8 410.70,387.9 410.95,388.0 411.20,388.0 411.45,387.9 411.70,388.1 411.95,387.9 412.20,388.1 412.45,388.1 412.70,387.8 412.95,388.1 413.20,387.9 413.45,388.0 413.70,388.0 413.95,388.1 414.20,388.0 414.45,387.8 414.70,388.1 414.95,388.2 415.20,388.0 415.45,388.0 415.70,387.9 415.95,388.2 416.20,388.1 416.45,387.9 416.70,388.2 416.95,388.2 417.20,387.9 417.45,388.2 417.70,388.0 417.95,387.8 418.20,388.1 418.45,387.9 418.70,388.1 418.95,388.0 419.20,387.8 419.45,388.0 419.70,388.2 419.95,388.0 420.20,388.0 420.45,388.2 420.70,388.0 420.95,388.0 421.20,388.0 421.45,388.2 421.70,387.9 421.95,387.8 422.20,388.1 422.45,388.0 422.70,387.9 422.95,388.2 423.20,388.1 423.45,387.8 423.70,387.7 423.95,387.1 424.20,386.3 424.45,385.4 424.70,384.8 424.95,385.2 425.20,385.7 425.45,386.3 425.70,387.0 425.95,387.6 426.20,387.7 426.45,388.0 426.70,388.0 426.95,387.9 427.20,387.8 427.45,388.0 427.70,387.9 427.95,388.1 428.20,387.8 428.45,387.9 428.70,387.8 428.95,388.0 429.20,388.0 429.45,387.8 429.70,387.8 429.95,388.0 430.20,387.9 430.45,388.0 430.70,387.8 430.95,387.8 431.20,388.0 431.45,388.2 431.70,388.2 431.95,388.0 432.20,387.9 432.45,387.8 432.70,387.9 432.95,387.9 433.20,388.2 433.45,387.8 433.70,388.2 433.95,388.0 434.20,388.0 434.45,387.9 434.70,388.2 434.95,387.8 435.20,388.0 435.45,388.0 435.70,387.8 435.95,387.9 436.20,388.2 436.45,388.1 436.70,388.1 436.95,388.2 437.20,387.8 437.45,388.1 437.70,388.1 437.95,387.9 438.20,388.0 438.45,388.2 438.70,387.9 438.95,388.1 439.20,387.8 439.45,388.1 439.70,387.9 439.95,388.0 440.20,387.9 440.45,388.2 440.70,388.1 440.95,388.0 441.20,388.1 441.45,388.0 441.70,388.2 441.95,387.9 442.20,388.0 442.45,388.0 442.70,387.9 442.95,387.8 443.20,387.8 443.45,388.1 443.70,387.9 443.95,388.1 444.20,388.0 444.45,388.2 444.70,388.2 444.95,388.1 445.20,387.9 445.45,387.8 445.70,388.0 445.95,388.1 446.20,388.2 446.45,387.9 446.70,387.8 446.95,388.2 447.20,388.1" fill="none" stroke="#ff1010" stroke-width="1.25" stroke-linejoin="round"/>
<polyline points="280.20,387.8 280.45,387.9 280.70,387.6 280.95,387.8 281.20,387.9 281.45,387.9 281.70,387.6 281.95,387.6 282.20,387.9 282.45,388.0 282.70,387.6 282.95,387.5 283.20,387.5 283.45,388.0 283.70,387.7 283.95,387.8 284.20,388.1 284.45,387.9 284.70,387.7 284.95,387.9 285.20,387.5 285.45,387.7 285.70,387.9 285.95,387.6 286.20,387.5 286.45,387.8 286.70,387.7 286.95,388.1 287.20,387.6 287.45,388.0 287.70,387.7 287.95,388.0 288.20,387.8 288.45,387.9 288.70,387.7 288.95,387.6 289.20,387.8 289.45,388.0 289.70,387.7 289.95,387.6 290.20,387.7 290.45,387.6 290.70,387.7 290.95,387.8 291.20,387.8 291.45,387.9 291.70,387.7 291.95,387.5 292.20,387.5 292.45,387.7 292.70,387.6 292.95,387.8 293.20,387.7 293.45,388.0 293.70,387.9 293.95,387.9 294.20,387.9 294.45,387.8 294.70,387.8 294.95,387.7 295.20,387.5 295.45,388.0 295.70,387.8 295.95,387.6 296.20,388.1 296.45,387.8 296.70,387.9 296.95,387.8 297.20,387.6 297.45,388.1 297.70,387.6 297.95,387.7 298.20,388.1 298.45,387.6 298.70,387.8 298.95,387.8 299.20,387.6 299.45,388.1 299.70,387.7 299.95,387.5 300.20,387.8 300.45,387.5 300.70,387.9 300.95,388.0 301.20,388.0 301.45,387.5 301.70,387.9 301.95,387.7 302.20,387.8 302.45,387.7 302.70,387.7 302.95,387.6 303.20,387.9 303.45,387.6 303.70,388.1 303.95,387.5 304.20,388.1 304.45,387.6 304.70,387.6 304.95,387.9 305.20,387.8 305.45,388.0 305.70,387.8 305.95,387.9 306.20,387.5 306.45,387.9 306.70,387.8 306.95,388.1 307.20,387.5 307.45,387.5 307.70,387.9 307.95,388.1 308.20,387.8 308.45,387.9 308.70,387.8 308.95,387.7 309.20,387.8 309.45,387.9 309.70,387.5 309.95,387.7 310.20,387.9 310.45,387.7 310.70,387.8 310.95,387.7 311.20,387.7 311.45,387.9 311.70,387.9 311.95,388.1 312.20,387.8 312.45,387.6 312.70,387.7 312.95,387.5 313.20,387.6 313.45,387.9 313.70,387.9 313.95,387.6 314.20,387.6 314.45,387.6 314.70,387.6 314.95,387.8 315.20,387.7 315.45,388.0 315.70,387.8 315.95,387.7 316.20,387.8 316.45,387.5 316.70,387.9 316.95,388.0 317.20,387.7 317.45,387.9 317.70,387.7 317.95,387.6 318.20,387.6 318.45,387.6 318.70,387.9 318.95,387.9 319.20,387.9 319.45,387.6 319.70,388.0 319.95,387.8 320.20,387.7 320.45,387.8 320.70,387.8 320.95,387.6 321.20,387.7 321.45,387.9 321.70,387.9 321.95,388.0 322.20,387.6 322.45,388.0 322.70,388.0 322.95,387.9 323.20,388.1 323.45,387.6 323.70,388.0 323.95,388.0 324.20,387.6 324.45,387.9 324.70,388.1 324.95,387.7 325.20,388.0 325.45,388.0 325.70,387.8 325.95,387.6 326.20,387.6 326.45,388.0 326.70,387.8 326.95,387.7 327.20,387.8 327.45,388.1 327.70,387.7 327.95,387.5 328.20,388.1 328.45,387.7 328.70,387.7 328.95,388.1 329.20,387.7 329.45,387.5 329.70,388.0 329.95,387.6 330.20,387.6 330.45,387.9 330.70,387.3 330.95,387.4 331.20,386.6 331.45,385.7 331.70,384.4 331.95,383.0 332.20,381.1 332.45,378.9 332.70,377.0 332.95,375.3 333.20,374.9 333.45,375.0 333.70,375.9 333.95,377.5 334.20,379.1 334.45,381.3 334.70,383.2 334.95,384.7 335.20,386.3 335.45,387.0 335.70,387.5 335.95,387.6 336.20,387.4 336.45,387.7 336.70,387.5 336.95,388.0 337.20,387.7 337.45,387.7 337.70,388.1 337.95,387.6 338.20,388.1 338.45,387.7 338.70,387.9 338.95,387.6 339.20,388.0 339.45,387.7 339.70,387.7 339.95,387.9 340.20,387.9 340.45,387.7 340.70,387.6 340.95,387.8 341.20,387.5 341.45,388.0 341.70,387.7 341.95,387.6 342.20,387.7 342.45,387.6 342.70,387.7 342.95,387.8 343.20,387.7 343.45,387.7 343.70,387.7 343.95,387.8 344.20,388.0 344.45,387.8 344.70,388.0 344.95,387.8 345.20,387.6 345.45,387.6 345.70,388.0 345.95,387.8 346.20,387.7 346.45,387.8 346.70,388.0 346.95,387.7 347.20,387.7 347.45,387.7 347.70,387.5 347.95,387.8 348.20,387.8 348.45,387.8 348.70,387.8 348.95,387.8 349.20,387.9 349.45,387.6 349.70,388.1 349.95,387.6 350.20,388.0 350.45,387.6 350.70,388.0 350.95,387.7 351.20,387.5 351.45,387.8 351.70,388.0 351.95,388.0 352.20,388.0 352.45,388.1 352.70,387.5 352.95,387.7 353.20,387.6 353.45,388.0 353.70,387.8 353.95,387.9 354.20,388.0 354.45,388.1 354.70,387.9 354.95,388.0 355.20,387.8 355.45,387.4 355.70,387.8 355.95,387.1 356.20,386.9 356.45,386.9 356.70,386.0 356.95,385.5 357.20,384.3 357.45,383.5 357.70,383.0 357.95,381.9 358.20,381.7 358.45,381.9 358.70,381.7 358.95,382.5 359.20,383.3 359.45,384.1 359.70,385.1 359.95,385.8 360.20,386.1 360.45,386.7 360.70,387.3 360.95,387.8 361.20,387.5 361.45,387.8 361.70,387.5 361.95,388.0 362.20,387.8 362.45,387.8 362.70,387.9 362.95,387.6 363.20,387.9 363.45,388.0 363.70,388.0 363.95,387.7 364.20,387.6 364.45,387.6 364.70,388.0 364.95,387.8 365.20,387.7 365.45,387.8 365.70,387.9 365.95,387.7 366.20,387.7 366.45,388.0 366.70,388.0 366.95,387.7 367.20,387.5 367.45,388.1 367.70,387.9 367.95,387.9 368.20,387.7 368.45,388.1 368.70,387.8 368.95,387.6 369.20,387.6 369.45,387.7 369.70,387.9 369.95,387.7 370.20,388.1 370.45,387.9 370.70,387.8 370.95,387.9 371.20,387.9 371.45,387.9 371.70,387.8 371.95,387.8 372.20,387.8 372.45,388.0 372.70,387.6 372.95,388.0 373.20,387.7 373.45,388.0 373.70,387.5 373.95,387.8 374.20,387.8 374.45,387.9 374.70,387.6 374.95,387.7 375.20,387.6 375.45,387.8 375.70,387.8 375.95,387.5 376.20,387.6 376.45,387.6 376.70,388.1 376.95,387.8 377.20,387.8 377.45,387.7 377.70,387.9 377.95,388.0 378.20,387.9 378.45,387.5 378.70,387.8 378.95,387.8 379.20,387.5 379.45,388.0 379.70,387.7 379.95,387.7 380.20,387.9 380.45,387.9 380.70,387.8 380.95,388.0 381.20,387.8 381.45,387.7 381.70,387.5 381.95,387.8 382.20,387.7 382.45,387.8 382.70,387.7 382.95,387.5 383.20,387.5 383.45,387.6 383.70,387.6 383.95,388.0 384.20,387.8 384.45,387.6 384.70,387.9 384.95,387.9 385.20,387.5 385.45,388.0 385.70,387.6 385.95,388.1 386.20,387.6 386.45,387.7 386.70,387.6 386.95,388.0 387.20,388.0 387.45,387.8 387.70,387.6 387.95,387.8 388.20,387.9 388.45,387.5 388.70,388.1 388.95,388.0 389.20,388.1 389.45,387.9 389.70,387.9 389.95,388.1 390.20,387.7 390.45,387.7 390.70,387.6 390.95,387.6 391.20,387.9 391.45,387.3 391.70,387.4 391.95,386.6 392.20,386.4 392.45,386.0 392.70,386.1 392.95,386.7 393.20,386.8 393.45,387.3 393.70,387.6 393.95,387.7 394.20,387.9 394.45,388.0 394.70,387.9 394.95,388.1 395.20,387.9 395.45,387.7 395.70,387.8 395.95,387.9 396.20,388.0 396.45,387.7 396.70,387.7 396.95,387.9 397.20,387.6 397.45,388.0 397.70,387.5 397.95,387.9 398.20,387.8 398.45,387.6 398.70,387.8 398.95,387.8 399.20,388.1 399.45,388.0 399.70,387.9 399.95,388.0 400.20,388.0 400.45,387.6 400.70,388.0 400.95,388.0 401.20,388.1 401.45,388.0 401.70,387.7 401.95,387.6 402.20,387.9 402.45,387.6 402.70,388.0 402.95,387.8 403.20,388.0 403.45,387.7 403.70,387.7 403.95,388.0 404.20,387.9 404.45,387.7 404.70,387.8 404.95,387.8 405.20,387.9 405.45,387.8 405.70,387.7 405.95,388.1 406.20,388.0 406.45,388.0 406.70,387.7 406.95,387.6 407.20,387.9 407.45,388.0 407.70,387.9 407.95,387.6 408.20,387.9 408.45,387.8 408.70,387.7 408.95,387.9 409.20,387.8 409.45,387.9 409.70,388.0 409.95,388.1 410.20,387.6 410.45,387.8 410.70,388.1 410.95,387.9 411.20,387.8 411.45,388.0 411.70,387.5 411.95,388.0 412.20,387.9 412.45,387.9 412.70,387.7 412.95,387.9 413.20,387.6 413.45,387.8 413.70,387.7 413.95,388.1 414.20,388.0 414.45,387.8 414.70,388.0 414.95,387.7 415.20,387.8 415.45,387.6 415.70,388.0 415.95,388.0 416.20,388.0 416.45,387.5 416.70,388.0 416.95,387.5 417.20,387.8 417.45,387.8 417.70,387.5 417.95,387.8 418.20,388.0 418.45,387.9 418.70,387.7 418.95,388.0 419.20,387.7 419.45,388.0 419.70,387.7 419.95,387.5 420.20,388.1 420.45,387.5 420.70,387.7 420.95,388.0 421.20,387.6 421.45,387.8 421.70,388.0 421.95,387.8 422.20,387.5 422.45,387.6 422.70,387.2 422.95,386.5 423.20,385.9 423.45,384.9 423.70,384.1 423.95,383.9 424.20,383.7 424.45,383.3 424.70,384.0 424.95,384.8 425.20,386.0 425.45,386.3 425.70,386.8 425.95,387.6 426.20,387.4 426.45,388.0 426.70,387.7 426.95,388.0 427.20,388.0 427.45,387.6 427.70,388.0 427.95,387.7 428.20,387.6 428.45,387.5 428.70,387.9 428.95,387.8 429.20,387.7 429.45,388.0 429.70,387.6 429.95,387.8 430.20,387.6 430.45,387.7 430.70,388.0 430.95,387.8 431.20,387.6 431.45,387.6 431.70,387.9 431.95,387.7 432.20,388.0 432.45,387.5 432.70,388.0 432.95,387.9 433.20,388.0 433.45,387.7 433.70,387.5 433.95,387.6 434.20,387.9 434.45,387.5 434.70,387.6 434.95,388.0 435.20,388.0 435.45,388.0 435.70,388.0 435.95,387.8 436.20,388.0 436.45,387.9 436.70,387.8 436.95,387.8 437.20,387.5 437.45,387.6 437.70,387.6 437.95,387.8 438.20,387.6 438.45,388.1 438.70,387.8 438.95,387.9 439.20,388.0 439.45,387.6 439.70,388.0 439.95,388.1 440.20,387.7 440.45,387.6 440.70,388.0 440.95,388.0 441.20,388.0 441.45,387.7 441.70,387.9 441.95,387.6 442.20,387.6 442.45,387.8 442.70,387.9 442.95,387.6 443.20,388.1 443.45,387.5 443.70,388.1 443.95,387.6 444.20,388.0 444.45,388.0 444.70,388.1 444.95,387.8 445.20,387.9 445.45,387.7 445.70,388.0 445.95,387.6 446.20,388.0 446.45,387.9 446.70,387.5 446.95,388.1 447.20,387.7" fill="none" stroke="#000" stroke-width="1.3" stroke-linejoin="round"/>
<rect x="278.07" y="228.3" width="2.25" height="160.80" fill="#000"/>
<rect x="278.07" y="387.00" width="170.7" height="2.10" fill="#000"/>
<rect x="270.5" y="235.00" width="7.9" height="1" fill="#333"/>
<text transform="translate(268.5,240.1)" font-size="14.5" text-anchor="end" font-family="Liberation Serif, serif">4</text>
<rect x="270.5" y="309.50" width="7.9" height="1" fill="#333"/>
<text transform="translate(268.5,317.6)" font-size="14.5" text-anchor="end" font-family="Liberation Serif, serif">2</text>
<rect x="270.5" y="387.30" width="7.9" height="1" fill="#333"/>
<text transform="translate(268.5,392.7)" font-size="14.5" text-anchor="end" font-family="Liberation Serif, serif">0</text>
<rect x="282.10" y="388.90" width="1" height="4.4" fill="#555"/>
<text transform="translate(282.6,405.9) scale(1.0,1.04)" font-size="11.9" text-anchor="middle" font-family="Liberation Serif, serif">22</text>
<rect x="336.40" y="388.90" width="1" height="4.4" fill="#555"/>
<text transform="translate(336.6,405.7) scale(1.0,1.04)" font-size="11.9" text-anchor="middle" font-family="Liberation Serif, serif">23</text>
<rect x="390.60" y="388.90" width="1" height="4.4" fill="#555"/>
<text transform="translate(391,403.7) scale(1.0,1.04)" font-size="11.9" text-anchor="middle" font-family="Liberation Serif, serif">24</text>
<rect x="444.70" y="388.90" width="1" height="4.4" fill="#555"/>
<text transform="translate(445.9,403.9) scale(1.0,1.04)" font-size="11.9" text-anchor="middle" font-family="Liberation Serif, serif">25</text>
<text transform="translate(231.6,227.3) scale(0.99,1)" font-size="24.6" font-weight="bold" font-family="Liberation Serif, serif">C</text>
<text transform="translate(242.5,370.7) rotate(-90) scale(1.0,1.05)" font-size="12.68" font-family="Liberation Serif, serif">Detector Count (*10^5)</text>
<text transform="translate(286.5,245.8) scale(1.0,1.08)" font-size="11.75" font-family="Liberation Serif, serif">EIC m/z 177</text>
<text transform="translate(286.5,260.0) scale(1.0,1.06)" font-size="11.3" font-weight="bold" font-family="Liberation Serif, serif">A</text>
<text transform="translate(286.5,274.3) scale(1.0,1.06)" font-size="11.45" font-weight="bold" fill="#f00" font-family="Liberation Serif, serif">A+R</text>
<text transform="translate(286.5,287.7) scale(1.0,1.08)" font-size="11.9" font-family="Liberation Serif, serif">72 Hours</text>
<polyline points="513.30,385.0 513.55,385.1 513.80,385.0 514.05,385.1 514.30,385.3 514.55,385.4 514.80,385.3 515.05,385.4 515.30,385.4 515.55,385.3 515.80,385.1 516.05,385.1 516.30,385.0 516.55,385.2 516.80,385.1 517.05,385.3 517.30,385.1 517.55,385.2 517.80,385.2 518.05,385.3 518.30,385.0 518.55,385.1 518.80,385.3 519.05,385.1 519.30,385.3 519.55,385.4 519.80,385.1 520.05,385.4 520.30,385.3 520.55,385.4 520.80,385.2 521.05,385.3 521.30,385.3 521.55,385.0 521.80,385.2 522.05,385.2 522.30,385.2 522.55,385.3 522.80,385.4 523.05,385.3 523.30,385.4 523.55,385.0 523.80,385.3 524.05,385.3 524.30,385.4 524.55,385.0 524.80,385.0 525.05,385.4 525.30,385.1 525.55,385.3 525.80,385.2 526.05,385.1 526.30,385.2 526.55,385.2 526.80,385.4 527.05,385.2 527.30,385.3 527.55,385.1 527.80,385.3 528.05,385.3 528.30,385.3 528.55,385.4 528.80,385.0 529.05,385.4 529.30,385.3 529.55,385.1 529.80,385.2 530.05,385.0 530.30,385.0 530.55,385.3 530.80,385.2 531.05,385.1 531.30,384.6 531.55,384.2 531.80,384.0 532.05,383.6 532.30,383.2 532.55,382.6 532.80,382.6 533.05,382.4 533.30,382.4 533.55,383.0 533.80,383.1 534.05,383.8 534.30,384.1 534.55,384.3 534.80,384.8 535.05,385.0 535.30,385.1 535.55,385.1 535.80,385.4 536.05,385.3 536.30,385.0 536.55,385.0 536.80,385.4 537.05,385.2 537.30,385.0 537.55,385.0 537.80,385.3 538.05,385.0 538.30,385.1 538.55,385.3 538.80,385.1 539.05,385.3 539.30,385.4 539.55,385.3 539.80,385.3 540.05,385.3 540.30,385.1 540.55,385.3 540.80,385.3 541.05,385.2 541.30,385.2 541.55,385.3 541.80,385.1 542.05,385.3 542.30,385.4 542.55,385.0 542.80,385.1 543.05,385.4 543.30,385.0 543.55,385.4 543.80,385.2 544.05,385.0 544.30,385.3 544.55,385.0 544.80,385.4 545.05,385.1 545.30,385.4 545.55,385.4 545.80,385.0 546.05,385.2 546.30,385.0 546.55,385.3 546.80,385.0 547.05,385.0 547.30,385.0 547.55,385.4 547.80,385.1 548.05,385.1 548.30,385.2 548.55,385.2 548.80,385.2 549.05,385.4 549.30,385.1 549.55,385.2 549.80,385.4 550.05,385.1 550.30,385.0 550.55,385.4 550.80,385.1 551.05,385.4 551.30,385.4 551.55,385.1 551.80,385.1 552.05,385.0 552.30,385.4 552.55,385.2 552.80,385.1 553.05,385.0 553.30,385.1 553.55,385.4 553.80,385.0 554.05,385.2 554.30,385.3 554.55,385.2 554.80,385.2 555.05,385.1 555.30,385.0 555.55,385.3 555.80,385.4 556.05,385.1 556.30,384.8 556.55,384.9 556.80,384.3 557.05,384.0 557.30,384.2 557.55,384.4 557.80,384.5 558.05,384.5 558.30,385.2 558.55,384.9 558.80,385.1 559.05,385.4 559.30,385.3 559.55,385.3 559.80,385.0 560.05,385.4 560.30,385.2 560.55,385.0 560.80,385.3 561.05,385.4 561.30,385.0 561.55,385.2 561.80,385.4 562.05,385.1 562.30,385.1 562.55,385.3 562.80,385.2 563.05,385.4 563.30,385.4 563.55,385.4 563.80,385.3 564.05,385.0 564.30,385.3 564.55,385.2 564.80,385.2 565.05,385.2 565.30,385.1 565.55,385.0 565.80,385.4 566.05,385.1 566.30,384.8 566.55,385.1 566.80,384.6 567.05,384.2 567.30,383.3 567.55,382.1 567.80,380.7 568.05,379.1 568.30,376.6 568.55,374.6 568.80,372.1 569.05,370.5 569.30,369.0 569.55,368.9 569.80,369.4 570.05,370.8 570.30,373.0 570.55,375.2 570.80,377.6 571.05,379.6 571.30,381.4 571.55,382.7 571.80,383.9 572.05,384.1 572.30,384.7 572.55,385.1 572.80,385.1 573.05,385.0 573.30,385.4 573.55,385.0 573.80,385.0 574.05,385.0 574.30,385.2 574.55,385.4 574.80,385.1 575.05,385.1 575.30,385.3 575.55,385.0 575.80,385.0 576.05,385.3 576.30,385.0 576.55,385.2 576.80,385.0 577.05,385.3 577.30,385.4 577.55,385.2 577.80,385.1 578.05,385.3 578.30,385.3 578.55,385.0 578.80,385.1 579.05,385.1 579.30,385.2 579.55,385.1 579.80,385.3 580.05,385.1 580.30,385.4 580.55,385.1 580.80,385.1 581.05,385.0 581.30,385.0 581.55,385.1 581.80,385.4 582.05,385.2 582.30,385.2 582.55,385.4 582.80,385.4 583.05,385.3 583.30,385.1 583.55,385.1 583.80,385.2 584.05,385.1 584.30,385.1 584.55,385.1 584.80,385.1 585.05,385.3 585.30,385.3 585.55,385.2 585.80,385.2 586.05,385.3 586.30,385.3 586.55,385.0 586.80,385.4 587.05,385.2 587.30,385.1 587.55,385.4 587.80,385.3 588.05,385.1 588.30,385.0 588.55,385.2 588.80,385.2 589.05,385.1 589.30,385.0 589.55,385.2 589.80,385.1 590.05,385.3 590.30,385.2 590.55,385.1 590.80,385.4 591.05,385.2 591.30,385.0 591.55,385.1 591.80,385.0 592.05,372.9 592.30,357.8 592.55,342.5 592.80,327.1 593.05,311.5 593.30,296.2 593.55,280.9 593.80,265.7 594.05,250.5 594.30,237.1 594.55,237.3 594.80,237.3 595.05,238.2 595.30,253.6 595.55,268.7 595.80,284.2 596.05,299.3 596.30,314.7 596.55,330.1 596.80,345.1 597.05,360.7 597.30,376.0 597.55,385.0 597.80,385.1 598.05,385.4 598.30,385.1 598.55,385.0 598.80,385.1 599.05,385.2 599.30,385.1 599.55,385.1 599.80,385.1 600.05,385.1 600.30,385.2 600.55,385.2 600.80,385.0 601.05,385.2 601.30,385.1 601.55,385.4 601.80,385.4 602.05,385.0 602.30,385.3 602.55,385.1 602.80,385.0 603.05,385.4 603.30,385.4 603.55,385.3 603.80,385.3 604.05,385.4 604.30,385.2 604.55,385.3 604.80,385.3 605.05,385.4 605.30,385.4 605.55,385.1 605.80,385.1 606.05,385.2 606.30,385.2 606.55,385.1 606.80,385.4 607.05,385.4 607.30,385.3 607.55,385.2 607.80,385.3 608.05,385.0 608.30,385.4 608.55,385.0 608.80,385.4 609.05,385.3 609.30,385.1 609.55,385.0 609.80,385.2 610.05,385.2 610.30,385.3 610.55,385.0 610.80,385.4 611.05,385.2 611.30,385.2 611.55,385.3 611.80,385.3 612.05,385.2 612.30,385.1 612.55,385.2 612.80,385.0 613.05,385.1 613.30,385.4 613.55,385.0 613.80,385.0 614.05,385.3 614.30,385.0 614.55,384.8 614.80,384.5 615.05,384.1 615.30,383.5 615.55,383.8 615.80,383.8 616.05,384.7 616.30,384.8 616.55,385.1 616.80,385.1 617.05,385.3 617.30,385.1 617.55,385.3 617.80,385.1 618.05,385.4 618.30,385.3 618.55,385.1 618.80,385.3 619.05,385.4 619.30,385.1 619.55,385.0 619.80,385.4 620.05,385.4 620.30,385.0 620.55,385.3 620.80,385.4 621.05,385.1 621.30,385.3 621.55,385.1 621.80,385.3 622.05,385.2 622.30,385.2 622.55,385.0 622.80,385.3 623.05,385.3 623.30,385.1 623.55,385.0 623.80,385.0 624.05,385.1 624.30,385.4 624.55,385.3 624.80,385.4 625.05,385.3 625.30,385.0 625.55,385.1 625.80,385.4 626.05,385.4 626.30,385.4 626.55,385.4 626.80,385.3 627.05,385.3 627.30,385.4 627.55,385.2 627.80,385.0 628.05,385.1 628.30,385.0 628.55,385.1 628.80,385.2 629.05,385.1 629.30,385.1 629.55,385.0 629.80,385.1 630.05,385.2 630.30,385.2 630.55,385.4 630.80,385.0 631.05,385.1 631.30,385.0 631.55,385.4 631.80,385.3 632.05,385.3 632.30,385.4 632.55,385.0 632.80,385.4 633.05,385.1 633.30,385.3 633.55,385.2 633.80,385.3 634.05,385.1 634.30,385.1 634.55,385.1 634.80,385.3 635.05,385.2 635.30,385.0 635.55,385.1 635.80,385.2 636.05,385.1 636.30,385.2 636.55,385.4 636.80,385.3 637.05,385.4 637.30,385.1 637.55,385.4 637.80,385.4 638.05,385.2 638.30,385.0 638.55,385.0 638.80,385.3 639.05,385.4 639.30,385.3 639.55,385.2 639.80,385.2 640.05,385.0 640.30,385.2 640.55,385.4 640.80,385.1 641.05,385.3 641.30,385.4 641.55,385.3 641.80,385.1 642.05,385.1 642.30,385.3 642.55,385.4 642.80,385.4 643.05,385.2 643.30,385.3 643.55,385.4 643.80,385.1 644.05,385.3 644.30,385.1 644.55,385.1 644.80,385.0 645.05,385.3 645.30,385.3 645.55,385.0 645.80,385.0 646.05,385.1 646.30,385.1 646.55,385.3 646.80,385.0 647.05,385.2 647.30,385.2 647.55,385.1 647.80,385.4 648.05,385.2 648.30,385.2 648.55,385.3 648.80,385.2 649.05,385.0 649.30,385.4 649.55,385.3 649.80,385.2 650.05,385.2 650.30,385.3 650.55,385.1 650.80,385.0 651.05,385.2 651.30,385.4 651.55,385.0 651.80,385.4 652.05,385.1 652.30,385.4 652.55,385.3 652.80,385.1 653.05,385.1 653.30,385.4 653.55,385.4 653.80,385.4 654.05,385.2 654.30,385.2 654.55,385.3 654.80,385.4 655.05,385.4 655.30,385.1 655.55,385.4 655.80,385.4 656.05,385.2 656.30,385.0 656.55,385.0 656.80,385.3 657.05,385.2 657.30,385.4 657.55,385.3 657.80,385.3 658.05,385.0 658.30,385.2 658.55,385.2 658.80,385.2 659.05,385.0 659.30,384.3 659.55,384.0 659.80,383.6 660.05,382.7 660.30,382.4 660.55,382.5 660.80,383.1 661.05,383.4 661.30,384.2 661.55,384.7 661.80,385.0 662.05,384.8 662.30,385.2 662.55,385.3 662.80,385.3 663.05,385.4 663.30,385.4 663.55,385.3 663.80,385.4 664.05,385.2 664.30,385.0 664.55,385.1 664.80,385.4 665.05,385.1 665.30,385.2 665.55,385.4 665.80,385.3 666.05,385.3 666.30,385.2 666.55,385.2 666.80,385.0 667.05,385.0 667.30,385.0 667.55,385.2 667.80,385.2 668.05,385.0 668.30,385.3 668.55,385.0 668.80,385.1 669.05,385.0 669.30,385.2 669.55,385.0 669.80,385.4 670.05,385.1 670.30,385.4 670.55,385.2 670.80,385.1 671.05,385.4 671.30,385.1 671.55,385.2 671.80,385.3 672.05,385.4 672.30,385.3 672.55,385.0 672.80,385.2 673.05,385.4 673.30,385.4 673.55,385.1 673.80,385.0 674.05,385.1 674.30,385.3 674.55,385.0 674.80,385.4 675.05,385.1 675.30,385.3 675.55,385.3 675.80,385.1 676.05,385.2 676.30,385.2 676.55,385.0 676.80,384.9 677.05,384.5 677.30,384.2 677.55,383.7 677.80,384.0 678.05,384.7 678.30,385.1 678.55,385.1" fill="none" stroke="#ff1010" stroke-width="1.25" stroke-linejoin="round"/>
<polyline points="513.30,385.8 513.55,385.4 513.80,385.6 514.05,385.6 514.30,385.4 514.55,385.6 514.80,385.6 515.05,385.5 515.30,385.8 515.55,385.9 515.80,385.9 516.05,385.4 516.30,385.5 516.55,385.9 516.80,385.3 517.05,385.4 517.30,385.3 517.55,385.9 517.80,385.6 518.05,385.6 518.30,385.4 518.55,385.8 518.80,385.9 519.05,385.7 519.30,385.8 519.55,385.6 519.80,385.5 520.05,385.4 520.30,385.5 520.55,385.4 520.80,385.5 521.05,385.3 521.30,385.3 521.55,385.8 521.80,385.8 522.05,385.8 522.30,385.5 522.55,385.6 522.80,385.6 523.05,385.8 523.30,385.5 523.55,385.6 523.80,385.6 524.05,385.8 524.30,385.5 524.55,385.3 524.80,385.5 525.05,385.8 525.30,385.4 525.55,385.7 525.80,385.4 526.05,385.5 526.30,385.7 526.55,385.4 526.80,385.6 527.05,385.7 527.30,385.5 527.55,385.8 527.80,385.8 528.05,385.5 528.30,385.8 528.55,385.8 528.80,385.7 529.05,385.7 529.30,385.6 529.55,385.7 529.80,385.7 530.05,385.5 530.30,385.7 530.55,385.7 530.80,385.6 531.05,385.8 531.30,385.5 531.55,385.6 531.80,385.6 532.05,385.7 532.30,385.4 532.55,385.7 532.80,385.4 533.05,385.6 533.30,385.6 533.55,385.7 533.80,385.8 534.05,385.9 534.30,385.4 534.55,385.8 534.80,385.6 535.05,385.6 535.30,385.3 535.55,385.8 535.80,385.4 536.05,385.5 536.30,385.5 536.55,385.4 536.80,385.5 537.05,385.5 537.30,385.6 537.55,385.5 537.80,385.8 538.05,385.9 538.30,385.9 538.55,385.5 538.80,385.7 539.05,385.7 539.30,385.7 539.55,385.5 539.80,385.4 540.05,385.8 540.30,385.7 540.55,385.5 540.80,385.7 541.05,385.3 541.30,385.8 541.55,385.8 541.80,385.9 542.05,385.4 542.30,385.7 542.55,385.8 542.80,385.4 543.05,385.7 543.30,385.4 543.55,385.4 543.80,385.3 544.05,385.5 544.30,385.8 544.55,385.7 544.80,385.8 545.05,385.9 545.30,385.4 545.55,385.8 545.80,385.8 546.05,385.7 546.30,385.5 546.55,385.4 546.80,385.6 547.05,385.5 547.30,385.5 547.55,385.7 547.80,385.7 548.05,385.5 548.30,385.4 548.55,385.6 548.80,385.7 549.05,385.7 549.30,385.7 549.55,385.8 549.80,385.8 550.05,385.6 550.30,385.7 550.55,385.7 550.80,385.5 551.05,385.4 551.30,385.5 551.55,385.7 551.80,385.8 552.05,385.5 552.30,385.6 552.55,385.3 552.80,385.7 553.05,385.6 553.30,385.8 553.55,385.8 553.80,385.3 554.05,385.9 554.30,385.4 554.55,385.9 554.80,385.9 555.05,385.4 555.30,385.5 555.55,385.4 555.80,385.8 556.05,385.8 556.30,385.9 556.55,385.8 556.80,385.5 557.05,385.8 557.30,385.5 557.55,385.5 557.80,385.6 558.05,385.7 558.30,385.5 558.55,385.6 558.80,385.6 559.05,385.8 559.30,385.6 559.55,385.6 559.80,385.6 560.05,385.6 560.30,385.7 560.55,385.4 560.80,385.4 561.05,385.3 561.30,385.5 561.55,385.8 561.80,385.7 562.05,385.7 562.30,385.9 562.55,385.8 562.80,385.5 563.05,385.4 563.30,385.6 563.55,385.4 563.80,385.7 564.05,385.3 564.30,385.5 564.55,385.7 564.80,385.5 565.05,385.4 565.30,385.7 565.55,385.4 565.80,385.8 566.05,385.6 566.30,385.7 566.55,385.4 566.80,385.1 567.05,384.5 567.30,383.7 567.55,383.2 567.80,381.4 568.05,379.6 568.30,378.2 568.55,376.1 568.80,374.7 569.05,374.0 569.30,373.8 569.55,374.2 569.80,375.6 570.05,377.7 570.30,379.6 570.55,381.1 570.80,382.5 571.05,383.8 571.30,384.3 571.55,385.2 571.80,385.4 572.05,385.3 572.30,385.6 572.55,385.6 572.80,385.3 573.05,385.6 573.30,385.8 573.55,385.6 573.80,385.7 574.05,385.4 574.30,385.9 574.55,385.7 574.80,385.6 575.05,385.3 575.30,385.5 575.55,385.3 575.80,385.6 576.05,385.4 576.30,385.4 576.55,385.5 576.80,385.4 577.05,385.5 577.30,385.6 577.55,385.4 577.80,385.6 578.05,385.9 578.30,385.7 578.55,385.9 578.80,385.4 579.05,385.7 579.30,385.4 579.55,385.9 579.80,385.6 580.05,385.7 580.30,385.8 580.55,385.4 580.80,385.4 581.05,385.8 581.30,385.8 581.55,385.6 581.80,385.3 582.05,385.3 582.30,385.8 582.55,385.7 582.80,385.5 583.05,385.7 583.30,385.8 583.55,385.3 583.80,385.7 584.05,385.9 584.30,385.8 584.55,385.8 584.80,385.6 585.05,385.7 585.30,385.4 585.55,385.8 585.80,385.7 586.05,385.5 586.30,385.3 586.55,385.4 586.80,385.5 587.05,385.9 587.30,385.6 587.55,385.8 587.80,385.4 588.05,385.5 588.30,385.4 588.55,385.5 588.80,385.8 589.05,385.5 589.30,385.5 589.55,385.7 589.80,385.6 590.05,385.8 590.30,385.7 590.55,385.8 590.80,385.5 591.05,385.4 591.30,385.4 591.55,385.5 591.80,385.2 592.05,384.6 592.30,384.1 592.55,383.2 592.80,382.9 593.05,381.9 593.30,381.1 593.55,380.3 593.80,380.1 594.05,380.1 594.30,380.1 594.55,380.6 594.80,381.4 595.05,382.2 595.30,382.7 595.55,383.5 595.80,384.2 596.05,384.9 596.30,385.0 596.55,385.0 596.80,385.3 597.05,385.3 597.30,385.7 597.55,385.4 597.80,385.9 598.05,385.5 598.30,385.4 598.55,385.3 598.80,385.6 599.05,385.6 599.30,385.8 599.55,385.7 599.80,385.6 600.05,385.3 600.30,385.9 600.55,385.4 600.80,385.4 601.05,385.4 601.30,385.7 601.55,385.7 601.80,385.5 602.05,385.5 602.30,385.3 602.55,385.7 602.80,385.7 603.05,385.4 603.30,385.4 603.55,385.8 603.80,385.7 604.05,385.4 604.30,385.9 604.55,385.7 604.80,385.7 605.05,385.5 605.30,385.9 605.55,385.6 605.80,385.7 606.05,385.9 606.30,385.8 606.55,385.4 606.80,385.4 607.05,385.4 607.30,385.4 607.55,385.8 607.80,385.6 608.05,385.6 608.30,385.5 608.55,385.6 608.80,385.6 609.05,385.7 609.30,385.5 609.55,385.8 609.80,385.8 610.05,385.8 610.30,385.7 610.55,385.4 610.80,385.6 611.05,385.8 611.30,385.5 611.55,385.6 611.80,385.4 612.05,385.8 612.30,385.5 612.55,385.5 612.80,385.8 613.05,385.4 613.30,385.3 613.55,385.6 613.80,385.6 614.05,385.4 614.30,385.5 614.55,385.8 614.80,385.8 615.05,385.9 615.30,385.8 615.55,385.3 615.80,385.5 616.05,385.6 616.30,385.3 616.55,385.8 616.80,385.5 617.05,385.8 617.30,385.7 617.55,385.5 617.80,385.5 618.05,385.6 618.30,385.4 618.55,385.3 618.80,385.6 619.05,385.4 619.30,385.5 619.55,385.8 619.80,385.7 620.05,385.5 620.30,385.3 620.55,385.8 620.80,385.5 621.05,385.4 621.30,385.8 621.55,385.8 621.80,385.5 622.05,385.6 622.30,385.8 622.55,385.6 622.80,385.5 623.05,385.4 623.30,385.3 623.55,385.8 623.80,385.8 624.05,385.4 624.30,385.7 624.55,385.4 624.80,385.7 625.05,385.5 625.30,385.7 625.55,385.6 625.80,385.3 626.05,385.6 626.30,385.7 626.55,385.3 626.80,385.3 627.05,385.3 627.30,385.3 627.55,385.0 627.80,384.1 628.05,383.9 628.30,383.8 628.55,383.9 628.80,384.6 629.05,385.3 629.30,385.4 629.55,385.6 629.80,385.7 630.05,385.4 630.30,385.6 630.55,385.6 630.80,385.6 631.05,385.7 631.30,385.5 631.55,385.6 631.80,385.6 632.05,385.4 632.30,385.8 632.55,385.9 632.80,385.6 633.05,385.5 633.30,385.5 633.55,385.6 633.80,385.5 634.05,385.5 634.30,385.9 634.55,385.5 634.80,385.4 635.05,385.7 635.30,385.3 635.55,385.5 635.80,385.6 636.05,385.8 636.30,385.5 636.55,385.3 636.80,385.9 637.05,385.3 637.30,385.6 637.55,385.6 637.80,385.9 638.05,385.5 638.30,385.4 638.55,385.5 638.80,385.5 639.05,385.4 639.30,385.8 639.55,385.6 639.80,385.7 640.05,385.5 640.30,385.7 640.55,385.8 640.80,385.4 641.05,385.9 641.30,385.5 641.55,385.7 641.80,385.9 642.05,385.6 642.30,385.9 642.55,385.5 642.80,385.6 643.05,385.9 643.30,385.7 643.55,385.3 643.80,385.4 644.05,385.6 644.30,385.5 644.55,385.3 644.80,385.8 645.05,385.5 645.30,385.8 645.55,385.5 645.80,385.4 646.05,385.6 646.30,385.8 646.55,385.8 646.80,385.6 647.05,385.5 647.30,385.6 647.55,385.5 647.80,385.5 648.05,385.3 648.30,385.3 648.55,385.9 648.80,385.8 649.05,385.4 649.30,385.7 649.55,385.3 649.80,385.8 650.05,385.7 650.30,385.7 650.55,385.6 650.80,385.6 651.05,385.8 651.30,385.5 651.55,385.3 651.80,385.4 652.05,385.9 652.30,385.5 652.55,385.3 652.80,385.6 653.05,385.4 653.30,385.6 653.55,385.8 653.80,385.4 654.05,385.6 654.30,385.9 654.55,385.8 654.80,385.8 655.05,385.3 655.30,385.9 655.55,385.6 655.80,385.4 656.05,385.9 656.30,385.3 656.55,385.7 656.80,385.0 657.05,384.9 657.30,384.8 657.55,384.4 657.80,383.8 658.05,383.3 658.30,382.2 658.55,381.8 658.80,381.1 659.05,381.1 659.30,380.9 659.55,381.2 659.80,381.4 660.05,382.5 660.30,382.9 660.55,383.5 660.80,384.2 661.05,384.9 661.30,385.0 661.55,385.3 661.80,385.5 662.05,385.4 662.30,385.3 662.55,385.5 662.80,385.7 663.05,385.7 663.30,385.4 663.55,385.7 663.80,385.8 664.05,385.7 664.30,385.4 664.55,385.3 664.80,385.9 665.05,385.7 665.30,385.5 665.55,385.7 665.80,385.6 666.05,385.7 666.30,385.5 666.55,385.7 666.80,385.5 667.05,385.5 667.30,385.5 667.55,385.7 667.80,385.8 668.05,385.5 668.30,385.3 668.55,385.5 668.80,385.8 669.05,385.5 669.30,385.3 669.55,385.8 669.80,385.6 670.05,385.3 670.30,385.7 670.55,385.6 670.80,385.8 671.05,385.8 671.30,385.8 671.55,385.8 671.80,385.5 672.05,385.8 672.30,385.6 672.55,385.7 672.80,385.4 673.05,385.7 673.30,385.3 673.55,385.8 673.80,385.4 674.05,385.6 674.30,385.8 674.55,385.8 674.80,385.8 675.05,385.6 675.30,385.3 675.55,385.9 675.80,385.5 676.05,385.8 676.30,385.5 676.55,385.6 676.80,385.6 677.05,385.6 677.30,385.8 677.55,385.7 677.80,385.4 678.05,385.6 678.30,385.4 678.55,385.8" fill="none" stroke="#000" stroke-width="1.25" stroke-linejoin="round"/>
<rect x="512.30" y="384.75" width="166.3" height="1.65" fill="#000"/>
<rect x="511.10" y="227.4" width="2.4" height="160.90" fill="#000"/>
<rect x="511.10" y="386.20" width="171.5" height="2.10" fill="#000"/>
<rect x="503.8" y="234.00" width="7.6" height="1" fill="#333"/>
<text transform="translate(501.7,239)" font-size="14.5" text-anchor="end" font-family="Liberation Serif, serif">4</text>
<rect x="503.8" y="308.70" width="7.6" height="1" fill="#333"/>
<text transform="translate(501.7,316.6)" font-size="14.5" text-anchor="end" font-family="Liberation Serif, serif">2</text>
<rect x="503.8" y="387.10" width="7.6" height="1" fill="#333"/>
<text transform="translate(501.7,392.1)" font-size="14.5" text-anchor="end" font-family="Liberation Serif, serif">0</text>
<rect x="515.90" y="388.10" width="1" height="4.4" fill="#555"/>
<text transform="translate(516.4,405.4) scale(1.0,1.04)" font-size="11.9" text-anchor="middle" font-family="Liberation Serif, serif">22</text>
<rect x="570.00" y="388.10" width="1" height="4.4" fill="#555"/>
<text transform="translate(570.4,405.9) scale(1.0,1.04)" font-size="11.9" text-anchor="middle" font-family="Liberation Serif, serif">23</text>
<rect x="624.30" y="388.10" width="1" height="4.4" fill="#555"/>
<text transform="translate(624.5,403.4) scale(1.0,1.04)" font-size="11.9" text-anchor="middle" font-family="Liberation Serif, serif">24</text>
<rect x="678.30" y="388.10" width="1" height="4.4" fill="#555"/>
<text transform="translate(679.6,404.4) scale(1.0,1.04)" font-size="11.9" text-anchor="middle" font-family="Liberation Serif, serif">25</text>
<text transform="translate(459.7,229.6) scale(0.975,1)" font-size="24.6" font-weight="bold" font-family="Liberation Serif, serif">D</text>
<text transform="translate(476,370.1) rotate(-90) scale(1.0,1.05)" font-size="12.7" font-family="Liberation Serif, serif">Detector Count (*10^5)</text>
<text transform="translate(520.9,243.5) scale(1.0,1.08)" font-size="11.75" font-family="Liberation Serif, serif">EIC m/z 177</text>
<text transform="translate(520.9,258.1) scale(1.0,1.06)" font-size="11.3" font-weight="bold" font-family="Liberation Serif, serif">A</text>
<text transform="translate(520.9,272.8) scale(1.0,1.06)" font-size="11.45" font-weight="bold" fill="#f00" font-family="Liberation Serif, serif">A+R</text>
<text transform="translate(520.9,286.2) scale(1.0,1.08)" font-size="11.9" font-family="Liberation Serif, serif">96 Hours</text>
<text transform="translate(223.2,420.9) scale(1.0,1.04)" font-size="12.8" font-family="Liberation Serif, serif">Retention Time (Minutes)</text>
</svg>
</body></html>
